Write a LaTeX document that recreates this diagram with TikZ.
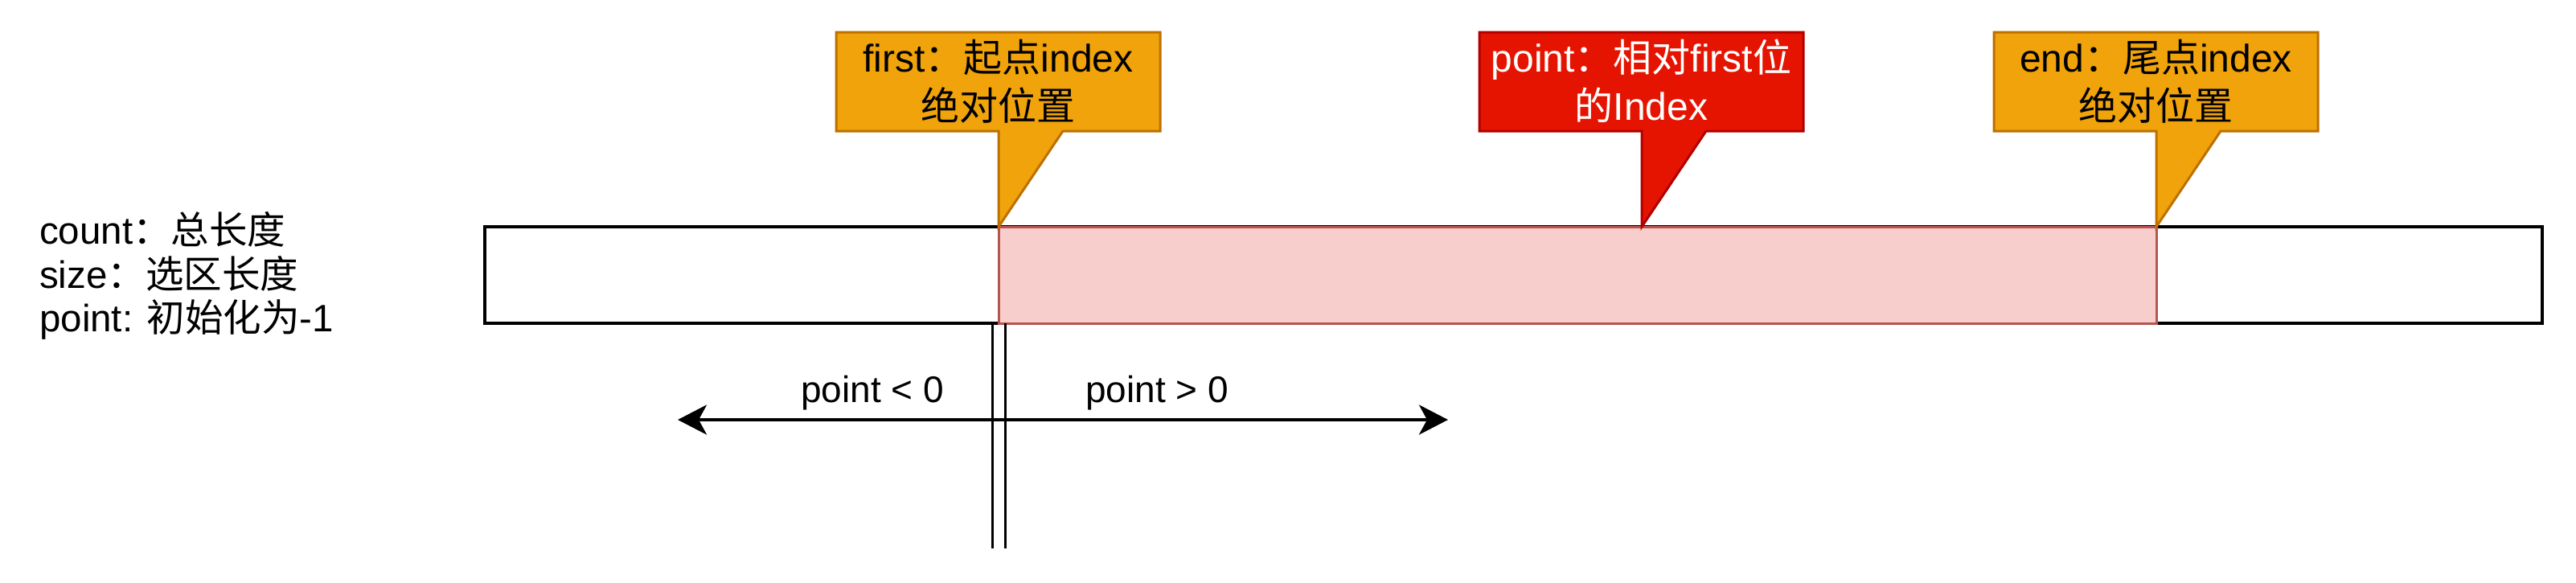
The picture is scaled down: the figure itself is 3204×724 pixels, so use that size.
\documentclass[tikz,border=0pt]{standalone}
\usepackage{fontspec}
\setmainfont{Liberation Sans}
\newfontfamily\cjk{Noto Sans CJK SC}
\usetikzlibrary{arrows.meta}
\definecolor{orgfill}{HTML}{F0A30A}
\definecolor{orgline}{HTML}{BD7000}
\definecolor{redfill}{HTML}{E51400}
\definecolor{redline}{HTML}{B20000}
\definecolor{pinkfill}{HTML}{F8CECC}
\definecolor{pinkline}{HTML}{B85450}
\tikzset{bigtip/.tip={Stealth[length=36pt,width=37pt,inset=10pt]}}
\begin{document}
\begin{tikzpicture}[x=1pt,y=-1pt,
  txt/.style={inner sep=0pt, font=\fontsize{46}{55}\selectfont},
  legend/.style={inner sep=0pt, font=\fontsize{47.5}{55}\selectfont},
  calltext/.style={inner sep=0pt, align=center, font=\fontsize{48}{60}\selectfont},
  callorg/.style={draw=orgline, fill=orgfill, line width=3pt, line join=miter},
  callred/.style={draw=redline, fill=redfill, line width=3pt, line join=miter}
]
\useasboundingbox (0,0) rectangle (3204,724);
\fill[white] (0,0) rectangle (3204,724);

% main bar and selection
\node[draw=black, line width=4pt, minimum width=2559pt, minimum height=120pt, inner sep=0pt, outer sep=0pt, anchor=north west] (bar) at (603,282) {};
\node[draw=pinkline, fill=pinkfill, line width=3pt, minimum width=1440pt, minimum height=120pt, inner sep=0pt, outer sep=0pt, anchor=north west] (sel) at (1242,282) {};
\coordinate (ptip) at (2042,282);

% callouts
\draw[callorg] (1040,40) -- (1443,40) -- (1443,163) -- (1322,163) -- (sel.north west) -- (1242,163) -- (1040,163) -- cycle;
\draw[callred] (1840,40) -- (2243,40) -- (2243,163) -- (2122,163) -- (ptip) -- (2042,163) -- (1840,163) -- cycle;
\draw[callorg] (2480,40) -- (2883,40) -- (2883,163) -- (2762,163) -- (sel.north east) -- (2682,163) -- (2480,163) -- cycle;

\node[calltext] (tfirst) at (1241.5,101) {first{\cjk ：起点}index\\{\cjk 绝对位置}};
\node[calltext, text=white] (tpoint) at (2041.5,101) {point{\cjk ：相对}first{\cjk 位}\\{\cjk 的}Index};
\node[calltext] (tend) at (2681.5,101) {end{\cjk ：尾点}index\\{\cjk 绝对位置}};

% left legend
\node[legend, anchor=base west] (lcount) at (49,303) {count{\cjk ：总长度}};
\node[legend, anchor=base west] (lsize) at (49,358) {size{\cjk ：选区长度}};
\node[legend, anchor=base west] (lpoint) at (49,412) {point: {\cjk 初始化为}-1};

% double vertical line
\coordinate (v1t) at (1234,402);
\coordinate (v1b) at (1234,682);
\coordinate (v2t) at (1250,402);
\coordinate (v2b) at (1250,682);
\draw[line width=3pt] (v1t) -- (v1b);
\draw[line width=3pt] (v2t) -- (v2b);

% arrow
\coordinate (aL) at (843,522);
\coordinate (aR) at (1801,522);
\draw[line width=4pt, bigtip-bigtip] (aL) -- (aR);

\node[txt, anchor=base] (lneg) at (1085,500) {point < 0};
\node[txt, anchor=base] (lpos) at (1439,500) {point > 0};
\end{tikzpicture}
\end{document}
